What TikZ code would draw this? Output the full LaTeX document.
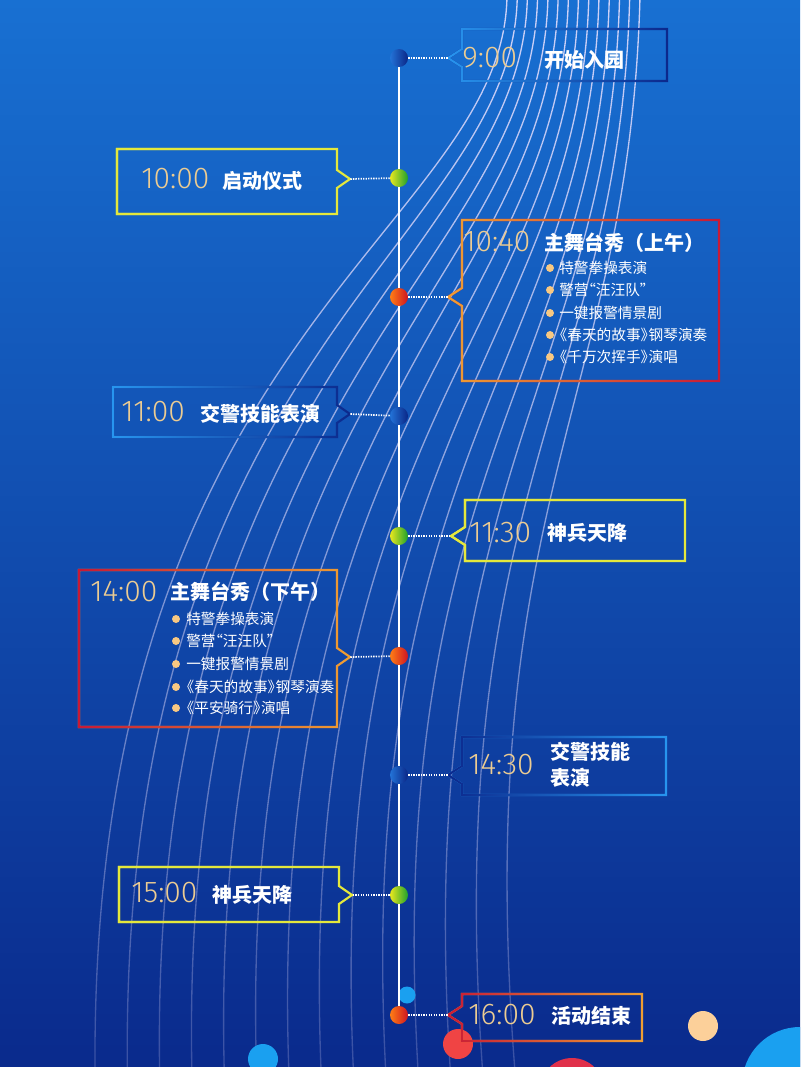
\documentclass[tikz,border=0pt]{standalone}
\usepackage{fontspec}
\setmainfont{Noto Sans CJK SC}
\newfontfamily\digitfont{Fira Sans Light}
\usetikzlibrary{fadings}
\definecolor{bgtop}{RGB}{24,112,210}
\definecolor{bgmid}{RGB}{18,84,190}
\definecolor{bgbot}{RGB}{10,42,140}
\definecolor{gold}{RGB}{236,204,146}
\definecolor{peach}{RGB}{248,200,130}
\definecolor{ylw}{RGB}{228,232,60}
\definecolor{lblue}{RGB}{40,150,240}
\definecolor{navy}{RGB}{12,40,140}
\definecolor{orng}{RGB}{240,160,50}
\definecolor{crim}{RGB}{200,25,55}
\definecolor{lav}{RGB}{240,228,255}
\definecolor{skyc}{RGB}{26,160,240}
\definecolor{rosec}{RGB}{224,48,74}
\definecolor{peachc}{RGB}{252,208,154}
\definecolor{redc}{RGB}{240,68,68}
\definecolor{bdL}{RGB}{35,115,215}
\definecolor{bdR}{RGB}{10,38,135}
\definecolor{gdL}{RGB}{232,232,30}
\definecolor{gdR}{RGB}{30,160,45}
\definecolor{rdL}{RGB}{255,125,20}
\definecolor{rdR}{RGB}{205,20,35}
\tikzfading[name=fadeR, left color=transparent!0, right color=transparent!100]
\tikzfading[name=fadedown, top color=transparent!15, bottom color=transparent!80]
% box with notch on the left (box to the right of the timeline)
\newcommand\boxR[8]{%
  \draw[bd,draw=#8] (#2,#3) -- (#4,#3) -- (#4,#5) -- (#2,#5) -- (#2,#6+9) -- (#2-14,#6) -- (#2,#6-9) -- cycle;
  \draw[bd,draw=#7,path fading=fadeR] (#2,#3) -- (#4,#3) -- (#4,#5) -- (#2,#5) -- (#2,#6+9) -- (#2-14,#6) -- (#2,#6-9) -- cycle;
  \coordinate (#1) at (#2-14,#6);}
% box with notch on the right (box to the left of the timeline)
\newcommand\boxL[8]{%
  \draw[bd,draw=#8] (#2,#3) -- (#4,#3) -- (#4,#6-9) -- (#4+13,#6) -- (#4,#6+9) -- (#4,#5) -- (#2,#5) -- cycle;
  \draw[bd,draw=#7,path fading=fadeR] (#2,#3) -- (#4,#3) -- (#4,#6-9) -- (#4+13,#6) -- (#4,#6+9) -- (#4,#5) -- (#2,#5) -- cycle;
  \coordinate (#1) at (#4+13,#6);}
\newcommand\myLQ{\kern-0.5em“}
\newcommand\myLB{\kern-0.45em《}
\newcommand\myRB{》\kern-0.45em}
\tikzset{
  bd/.style={line width=1.6pt, line join=miter},
  tm/.style={anchor=west, inner sep=0pt, text=gold, font=\digitfont\fontsize{22.5}{22.5}\selectfont},
  ttl/.style={anchor=west, inner sep=0pt, text=white, font=\bfseries\fontsize{15}{15}\selectfont},
  itm/.style={anchor=west, inner sep=0pt, text=white, font=\fontsize{11}{11}\selectfont},
  bul/.style={circle, inner sep=0pt, minimum size=6pt, fill=peach},
  dot/.style={circle, inner sep=0pt, minimum size=13.5pt},
  bluedot/.style={dot, left color=bdL, right color=bdR},
  greendot/.style={dot, left color=gdL, right color=gdR},
  reddot/.style={dot, left color=rdL, right color=rdR},
  conn/.style={white, line width=1.3pt, dash pattern=on 1pt off 0.9pt},
  curve/.style={lav, line width=1pt, path fading=fadedown},
}
\begin{document}
\begin{tikzpicture}[x=0.75pt,y=-0.75pt]
\useasboundingbox (0,0) rectangle (800,1067);
\fill[top color=bgtop, middle color=bgmid, bottom color=bgbot] (0,0) rectangle (800,1067);
\clip (0,0) rectangle (800,1067);
% sweeping background lines
\foreach \i in {0,...,13}{
  \draw[curve] (507+133*\i/13,-5) .. controls (505+125*\i/13,230+170*\i/13) and (90+380*\i/13,330+170*\i/13) .. (95+420*\i/13,1072);
}
% decorative circles
\fill[skyc] (263,1059) circle (15);
\fill[skyc] (800,1085) circle (58);
\fill[rosec] (572,1090) circle (32);
\fill[peachc] (703,1026) circle (15);
\fill[redc] (458,1044) circle (15);
\fill[skyc] (407,995) circle (8.5);
% timeline
\coordinate (ltop) at (399,58);
\coordinate (lbot) at (399,1015);
\draw[white, line width=1.5pt] (ltop) -- (lbot);
% boxes
\boxR{t1}{462}{29}{667}{81}{58}{lblue}{navy}
\boxL{t2}{117}{149}{337}{214}{179}{ylw}{ylw}
\boxR{t3}{462}{220}{719}{381}{297}{orng}{crim}
\boxL{t4}{113}{387}{337}{437}{414}{lblue}{navy}
\boxR{t5}{465}{500}{685}{561}{536}{ylw}{ylw}
\boxL{t6}{79}{570}{337}{727}{657}{crim}{orng}
\boxR{t7}{462}{737}{666}{795}{775}{navy}{lblue}
\boxL{t8}{119}{867}{339}{922}{895}{ylw}{ylw}
\boxR{t9}{462}{994}{642}{1041}{1015}{crim}{orng}
% dots
\node[bluedot] (d1) at (399,58) {};
\node[greendot] (d2) at (399,178) {};
\node[reddot] (d3) at (399,297) {};
\node[bluedot] (d4) at (399,416) {};
\node[greendot] (d5) at (399,536) {};
\node[reddot] (d6) at (399,656) {};
\node[bluedot] (d7) at (399,775) {};
\node[greendot] (d8) at (399,895) {};
\node[reddot] (d9) at (399,1015) {};
% connectors
\draw[conn] (d1) -- (t1);
\draw[conn] (d2) -- (t2);
\draw[conn] (d3) -- (t3);
\draw[conn] (d4) -- (t4);
\draw[conn] (d5) -- (t5);
\draw[conn] (d6) -- (t6);
\draw[conn] (d7) -- (t7);
\draw[conn] (d8) -- (t8);
\draw[conn] (d9) -- (t9);
% texts
\node[tm] (h1) at (462,58) {9:00};
\node[ttl] (c1) at (544,60) {开始入园};
\node[tm] (h2) at (141,179) {10:00};
\node[ttl] (c2) at (222,181) {启动仪式};
\node[tm] (h3) at (463,242) {10:40};
\node[ttl] (c3) at (544,243) {主舞台秀（上午）};
\node[bul] (b31) at (550,268) {};
\node[itm] (i31) at (559,268) {特警拳操表演};
\node[bul] (b32) at (550,290) {};
\node[itm] (i32) at (559,290) {警营\myLQ 汪汪队”};
\node[bul] (b33) at (550,313) {};
\node[itm] (i33) at (559,313) {一键报警情景剧};
\node[bul] (b34) at (550,335) {};
\node[itm] (i34) at (559,335) {\myLB 春天的故事\myRB 钢琴演奏};
\node[bul] (b35) at (550,357) {};
\node[itm] (i35) at (559,357) {\myLB 千万次挥手\myRB 演唱};
\node[tm] (h4) at (121,412) {11:00};
\node[ttl] (c4) at (200,414) {交警技能表演};
\node[tm] (h5) at (469,533) {11:30};
\node[ttl] (c5) at (547,533) {神兵天降};
\node[tm] (h6) at (90,592) {14:00};
\node[ttl] (c6) at (170,592) {主舞台秀（下午）};
\node[bul] (b61) at (176,619) {};
\node[itm] (i61) at (186,619) {特警拳操表演};
\node[bul] (b62) at (176,641) {};
\node[itm] (i62) at (186,641) {警营\myLQ 汪汪队”};
\node[bul] (b63) at (176,664) {};
\node[itm] (i63) at (186,664) {一键报警情景剧};
\node[bul] (b64) at (176,687) {};
\node[itm] (i64) at (186,687) {\myLB 春天的故事\myRB 钢琴演奏};
\node[bul] (b65) at (176,708) {};
\node[itm] (i65) at (186,708) {\myLB 平安骑行\myRB 演唱};
\node[tm] (h7) at (468,765) {14:30};
\node[ttl] (c7a) at (550,752) {交警技能};
\node[ttl] (c7b) at (550,778) {表演};
\node[tm] (h8) at (131,893) {15:00};
\node[ttl] (c8) at (212,895) {神兵天降};
\node[tm] (h9) at (468,1015) {16:00};
\node[ttl] (c9) at (551,1016) {活动结束};
\end{tikzpicture}
\end{document}
